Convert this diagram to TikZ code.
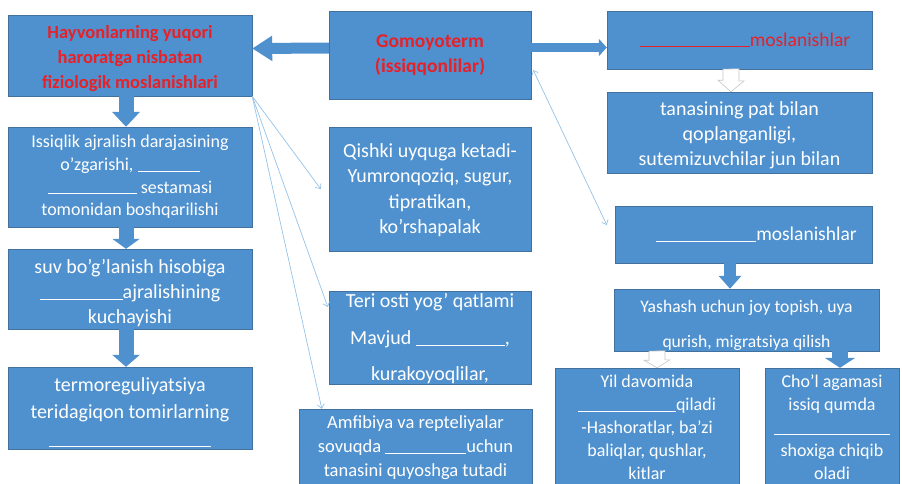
\documentclass[tikz,border=0pt]{standalone}
\usepackage{fontspec}
\setmainfont{Carlito}
\usetikzlibrary{arrows.meta}
\definecolor{boxblue}{RGB}{79,145,206}
\definecolor{boxedge}{RGB}{65,113,156}
\definecolor{titlered}{RGB}{232,32,40}
\definecolor{thinblue}{RGB}{150,195,232}
\newcommand{\blk}[1]{\rule[-1pt]{#1pt}{0.8pt}}
\newcommand{\push}[1]{\rule{0pt}{#1pt}}
\begin{document}
\begin{tikzpicture}[x=1pt, y=-1pt,
    box/.style={draw=boxedge, fill=boxblue, text=white, inner sep=0pt, align=center},
    titlebox/.style={box, text=titlered},
    blockarrow/.style n args={3}{draw=boxblue, line width=#1, -{Triangle[width=#2, length=#3]}},
    hollowarrow/.style={draw=gray!45, fill=white, line width=0.6pt},
    thinarrow/.style={draw=thinblue, line width=0.7pt, -{Straight Barb[length=4pt, width=7pt]}},
    bothways/.style={thinarrow, {Straight Barb[length=4pt, width=7pt]}-{Straight Barb[length=4pt, width=7pt]}}]
    \path[use as bounding box, fill=white] (0,0) rectangle (902,483);

    % left column
    \node[titlebox, minimum width=244pt, minimum height=81pt, font=\bfseries\fontsize{18.5}{25}\selectfont] (h1) at (130,55.5)
        {\push{19}Hayvonlarning yuqori\\haroratga nisbatan\\fiziologik moslanishlari};
    \node[box, minimum width=244pt, minimum height=100pt, font=\fontsize{18}{22.7}\selectfont] (l2) at (130,177)
        {Issiqlik ajralish darajasining\\o’zgarishi, \blk{62}\\\blk{89} sestamasi\\tomonidan boshqarilishi};
    \node[box, minimum width=244pt, minimum height=80pt, font=\fontsize{20}{25}\selectfont] (l3) at (130,289)
        {\push{22}suv bo’g’lanish hisobiga\\\blk{83}ajralishining\\kuchayishi};
    \node[box, minimum width=244pt, minimum height=82pt, font=\fontsize{20}{27}\selectfont] (l4) at (130,408)
        {\push{22}termoreguliyatsiya\\teridagiqon tomirlarning\\\blk{161}};

    % middle column
    \node[titlebox, minimum width=202pt, minimum height=88pt, font=\bfseries\fontsize{19.5}{25}\selectfont] (gom) at (430,55)
        {Gomoyoterm\\(issiqqonlilar)};
    \node[box, minimum width=202pt, minimum height=124pt, font=\fontsize{20}{25.3}\selectfont] (q1) at (430,189)
        {\push{16}Qishki uyquga ketadi-\\Yumronqoziq, sugur,\\tipratikan,\\ko’rshapalak};
    \node[box, minimum width=202pt, minimum height=93pt, font=\fontsize{20}{36.5}\selectfont] (t1) at (430,337.5)
        {\push{17}Teri osti yog’ qatlami\\Mavjud \blk{89},\\kurakoyoqlilar,};
    \node[box, minimum width=233pt, minimum height=78pt, font=\fontsize{18.5}{24}\selectfont] (a1) at (415.5,448)
        {Amfibiya va repteliyalar\\sovuqda \blk{81}uchun\\tanasini quyoshga tutadi};

    % right column
    \node[titlebox, minimum width=265pt, minimum height=58pt, font=\fontsize{19.5}{24}\selectfont] (r1) at (739.5,40)
        {\hspace*{11pt}\blk{110}moslanishlar};
    \node[box, minimum width=265pt, minimum height=81pt, font=\fontsize{20}{25}\selectfont] (r2) at (739.5,132.5)
        {\push{19}tanasining pat bilan\\qoplanganligi,\\sutemizuvchilar jun bilan};
    \node[box, minimum width=257pt, minimum height=57pt, font=\fontsize{19.5}{24}\selectfont] (r3) at (743.5,234.5)
        {\hspace*{26pt}\blk{100}moslanishlar};
    \node[box, minimum width=265pt, minimum height=62pt, font=\fontsize{17.6}{35}\selectfont] (y1) at (746.5,320)
        {\push{24}Yashash uchun joy topish, uya\\qurish, migratsiya qilish};
    \node[box, minimum width=184pt, minimum height=119pt, font=\fontsize{18}{23}\selectfont] (yd) at (647,427.5)
        {Yil davomida\\\blk{98}qiladi\\-Hashoratlar, ba’zi\\baliqlar, qushlar,\\kitlar};
    \node[box, minimum width=134pt, minimum height=119pt, font=\fontsize{18}{23}\selectfont] (cq) at (832,427.5)
        {Cho’l agamasi\\issiq qumda\\\blk{116}\\shoxiga chiqib\\oladi};

    % block arrows
    \draw[blockarrow={11pt}{24pt}{20pt}] ([yshift=7pt]gom.west) -- ([yshift=7pt]h1.east);
    \draw[blockarrow={9pt}{17pt}{8pt}] ([yshift=7.5pt]gom.east) -- ([yshift=-7.5pt]r1.west);
    \draw[blockarrow={15pt}{27pt}{15pt}] ([xshift=-4pt]h1.south) -- ([xshift=-4pt]l2.north);
    \draw[blockarrow={15pt}{27pt}{10pt}] ([xshift=-4pt]l2.south) -- ([xshift=-4pt]l3.north);
    \draw[blockarrow={15pt}{27pt}{12pt}] ([xshift=-4pt]l3.south) -- ([xshift=-4pt]l4.north);
    \draw[blockarrow={12pt}{22pt}{13pt}] ([xshift=-13.5pt]r3.south) -- ([xshift=-16.5pt]y1.north);
    \draw[blockarrow={16pt}{30pt}{10pt}] ([xshift=93.5pt]y1.south) -- ([xshift=8pt]cq.north);

    % hollow arrows
    \draw[hollowarrow] ([xshift=-16.5pt]r1.south) -- ++(0,11) -- ++(-5,0) -- ([xshift=-8.5pt]r2.north)
        -- ++(13,-11) -- ++(-5,0) -- ++(0,-12) -- cycle;
    \draw[hollowarrow] ([xshift=-97.5pt]y1.south) -- ++(0,9) -- ++(-5,0) -- ([xshift=10pt]yd.north)
        -- ++(13,-8) -- ++(-5,0) -- ++(0,-9) -- cycle;

    % thin arrows
    \draw[thinarrow] (h1.south east) -- ([xshift=-8pt]q1.west);
    \draw[thinarrow] (h1.south east) -- ([shift={(-1pt,30.5pt)}]t1.west);
    \draw[thinarrow] (h1.south east) -- ([xshift=23pt]a1.north west);
    \draw[bothways] ([shift={(2pt,-15pt)}]gom.east) -- ([shift={(-8pt,9.5pt)}]r3.west);
\end{tikzpicture}
\end{document}
